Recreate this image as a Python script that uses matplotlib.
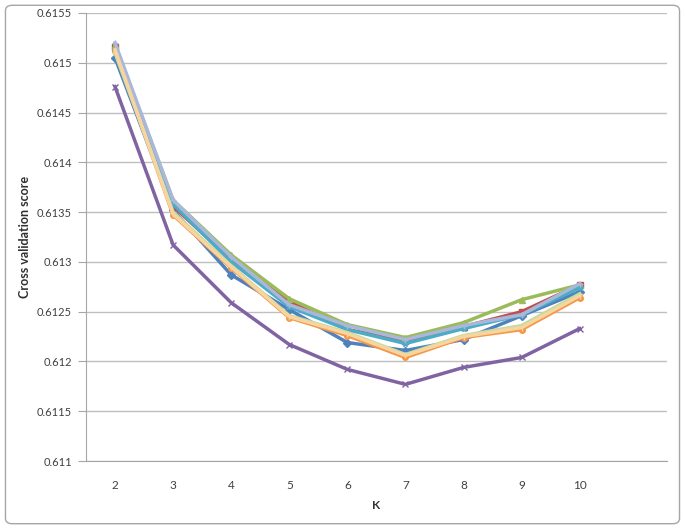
import matplotlib
matplotlib.use('Agg')
import matplotlib.pyplot as plt
from matplotlib.patches import FancyBboxPatch

plt.rcParams['font.family'] = ['Lato', 'DejaVu Sans']

k = [2, 3, 4, 5, 6, 7, 8, 9, 10]

s1 = [0.61505, 0.61352, 0.61287, 0.61252, 0.61219, 0.61211, 0.61222, 0.61246, 0.61270]
s2 = [0.61516, 0.61356, 0.61302, 0.61260, 0.61232, 0.61221, 0.61235, 0.61250, 0.61277]
s3 = [0.61518, 0.61362, 0.61307, 0.61263, 0.61237, 0.61224, 0.61239, 0.61262, 0.61277]
s4 = [0.61476, 0.61317, 0.61259, 0.61217, 0.61192, 0.61177, 0.61194, 0.61204, 0.61233]
s5 = [0.61513, 0.61358, 0.61300, 0.61255, 0.61232, 0.61218, 0.61233, 0.61247, 0.61274]
s6 = [0.61512, 0.61347, 0.61294, 0.61244, 0.61226, 0.61204, 0.61224, 0.61232, 0.61264]
s7 = [0.61520, 0.61362, 0.61305, 0.61257, 0.61236, 0.61222, 0.61236, 0.61247, 0.61278]
s8 = [0.61510, 0.61350, 0.61296, 0.61246, 0.61229, 0.61207, 0.61226, 0.61236, 0.61268]
s9 = [0.61513, 0.61348, 0.61295, 0.61245, 0.61228, 0.61206, 0.61225, 0.61234, 0.61266]

series = [s1, s2, s3, s4, s5, s6, s7, s8, s9]
colors = ['#4F81BD', '#C0504D', '#9BBB59', '#8064A2', '#4BACC6', '#F79646',
          '#A9B7DA', '#C6DA9E', '#F6D5A0']
markers = ['D', 's', '^', 'x', '*', 'o', '+', '_', '|']

fig = plt.figure(figsize=(6.85, 5.29), dpi=100)
border = FancyBboxPatch((0.008, 0.01), 0.984, 0.98, boxstyle='round,pad=0,rounding_size=0.01',
                        transform=fig.transFigure, facecolor='none', edgecolor='#A6A6A6', lw=1)
fig.patches.append(border)

ax = fig.add_axes([0.1255, 0.1285, 0.848, 0.847])
ax.set_facecolor('none')

# excel stacks later series on top
for i in range(len(series)):
    ax.plot(k, series[i], color=colors[i], lw=2.5, marker=markers[i], ms=4,
            mew=1.0, mfc=colors[i], mec=colors[i], zorder=3 + i)

ax.set_xlim(1.5, 11.5)
ax.set_ylim(0.611, 0.6155)
ax.set_xticks(k)
ax.set_xticklabels([str(v) for v in k])
yt = [0.611, 0.6115, 0.612, 0.6125, 0.613, 0.6135, 0.614, 0.6145, 0.615, 0.6155]
ax.set_yticks(yt)
ax.set_yticklabels(['%g' % v for v in yt])

ax.grid(axis='y', color='#BFBFBF', lw=1)
ax.set_axisbelow(True)
for sp in ['top', 'right']:
    ax.spines[sp].set_visible(False)
for sp in ['left', 'bottom']:
    ax.spines[sp].set_color('#A6A6A6')
ax.tick_params(axis='y', length=6, color='#A6A6A6', labelsize=8, labelcolor='#404040', pad=4)
ax.tick_params(axis='x', length=0, labelsize=8.5, labelcolor='#404040', pad=14)

ax.set_xlabel('K', fontsize=8.5, fontweight='bold', color='#303030', labelpad=6)
ax.set_ylabel('Cross validation score', fontsize=9, fontweight='bold', color='#303030', labelpad=4)

fig.savefig('out.png', dpi=100)
